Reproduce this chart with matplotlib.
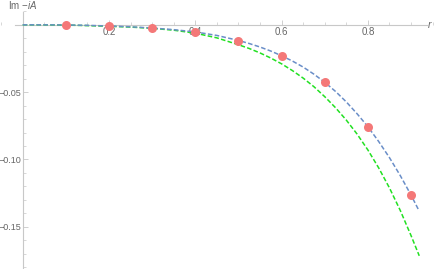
import matplotlib
matplotlib.use("Agg")
import matplotlib.pyplot as plt
from matplotlib.ticker import MultipleLocator, FixedLocator

plt.rcParams["font.family"] = ["Liberation Sans", "DejaVu Sans"]
plt.rcParams["mathtext.fontset"] = "custom"
plt.rcParams["mathtext.it"] = "Liberation Sans:italic"
plt.rcParams["mathtext.rm"] = "Liberation Sans"

# data
pts_r = [0.1, 0.2, 0.3, 0.4, 0.5, 0.6, 0.7, 0.8, 0.9]
pts_v = [-0.0001, -0.0009, -0.0024, -0.0053, -0.0118, -0.0230, -0.0427, -0.0757, -0.1265]

blue_r = [0.0, 0.05, 0.1, 0.15, 0.2, 0.25, 0.3, 0.35, 0.4, 0.45, 0.5, 0.525,
          0.55, 0.575, 0.6, 0.625, 0.65, 0.675, 0.7, 0.725, 0.75, 0.775,
          0.8, 0.825, 0.85, 0.875, 0.9, 0.917]
blue_v = [0.0, -0.00002, -0.0001, -0.0004, -0.0009, -0.0015, -0.0024, -0.0036,
          -0.0053, -0.0079, -0.0116, -0.0139, -0.0165, -0.0195, -0.0230, -0.0269,
          -0.0314, -0.0367, -0.0427, -0.0495, -0.0573, -0.0661, -0.0757, -0.0867,
          -0.0987, -0.1120, -0.1265, -0.1372]

green_r = [0.0, 0.05, 0.1, 0.15, 0.2, 0.25, 0.3, 0.35, 0.4, 0.45, 0.5, 0.525,
           0.55, 0.575, 0.6, 0.625, 0.65, 0.675, 0.7, 0.725, 0.75, 0.775,
           0.8, 0.825, 0.85, 0.875, 0.9, 0.919]
green_v = [0.0, -0.00002, -0.0002, -0.0006, -0.0011, -0.0017, -0.0026, -0.0040,
           -0.0062, -0.0097, -0.0148, -0.0176, -0.0209, -0.0247, -0.0290, -0.0340,
           -0.0396, -0.0460, -0.0534, -0.0616, -0.0708, -0.0812, -0.0930, -0.1063,
           -0.1212, -0.1379, -0.1566, -0.1716]

xticks = [0.2, 0.4, 0.6, 0.8]
xticklabels = ["0.2", "0.4", "0.6", "0.8"]
yticks = [-0.05, -0.10, -0.15]
yticklabels = ["\u22120.05", "\u22120.10", "\u22120.15"]

axis_color = "#c8c8c8"
label_color = "#666666"

fig = plt.figure(figsize=(4.36, 2.69), dpi=100)
ax = fig.add_axes([0, 0, 1, 1])
ax.set_xlim(-0.0526, 0.9578)
ax.set_ylim(-0.1814, 0.01843)

ax.plot(green_r, green_v, color="#22e022", lw=1.1, dashes=(3, 1.5), zorder=2)
ax.plot(blue_r, blue_v, color="#6a8ec8", lw=1.1, dashes=(3, 1.5), zorder=3)
ax.plot(pts_r, pts_v, "o", color="#f47878", ms=6.5, mec="none", zorder=4)

for s in ["top", "right"]:
    ax.spines[s].set_visible(False)
ax.spines["left"].set_position(("data", 0))
ax.spines["bottom"].set_position(("data", 0))
ax.spines["left"].set_bounds(-0.181, 0.0097)
ax.spines["bottom"].set_bounds(-0.018, 0.936)
for s in ["left", "bottom"]:
    ax.spines[s].set_color(axis_color)
    ax.spines[s].set_linewidth(0.8)
    ax.spines[s].set_zorder(1)

ax.xaxis.set_major_locator(FixedLocator(xticks))
ax.set_xticklabels(xticklabels)
ax.xaxis.set_minor_locator(MultipleLocator(0.05))
ax.yaxis.set_major_locator(FixedLocator(yticks))
ax.set_yticklabels(yticklabels)
ax.yaxis.set_minor_locator(MultipleLocator(0.01))

ax.tick_params(which="major", direction="in", length=3.5, width=0.6,
               color=axis_color, labelcolor=label_color, labelsize=7)
ax.tick_params(which="minor", direction="in", length=2, width=0.5, color=axis_color)
ax.tick_params(axis="x", pad=1.5)
ax.tick_params(axis="y", pad=0.8, labelsize=6.5)

ax.text(0.9385, 0.0, "r", fontsize=7.5, style="italic", color=label_color,
        ha="left", va="center")
ax.text(-0.0345, 0.0145, r"Im $-iA$", fontsize=7, color=label_color,
        ha="left", va="center")

fig.savefig("out.png", dpi=100)
